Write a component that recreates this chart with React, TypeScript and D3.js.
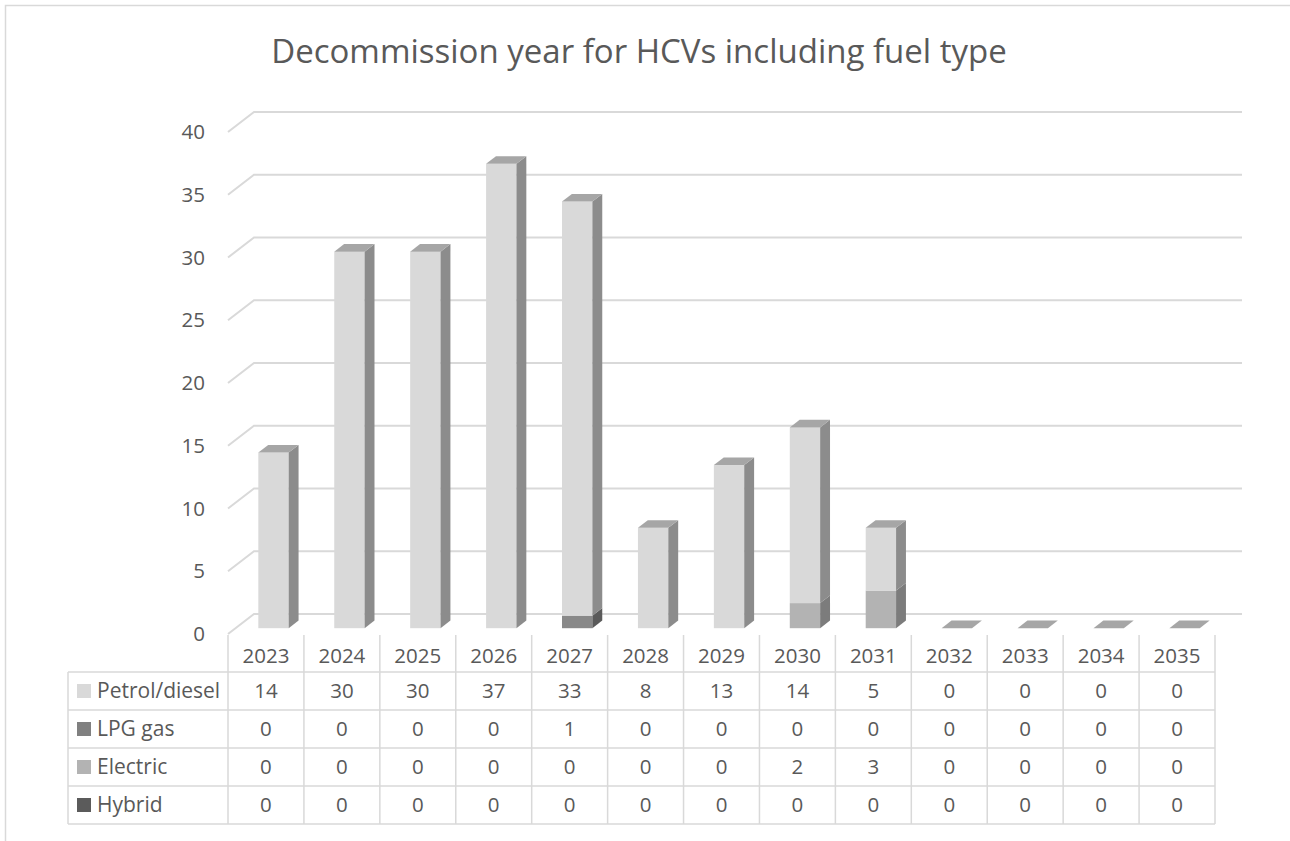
import * as d3 from 'd3';

const years = ['2023', '2024', '2025', '2026', '2027', '2028', '2029', '2030', '2031', '2032', '2033', '2034', '2035'];
const petrol = [14, 30, 30, 37, 33, 8, 13, 14, 5, 0, 0, 0, 0];
const lpg = [0, 0, 0, 0, 1, 0, 0, 0, 0, 0, 0, 0, 0];
const electric = [0, 0, 0, 0, 0, 0, 0, 2, 3, 0, 0, 0, 0];
const hybrid = [0, 0, 0, 0, 0, 0, 0, 0, 0, 0, 0, 0, 0];
const yTicks = [0, 5, 10, 15, 20, 25, 30, 35, 40];

// table order (top to bottom) and stacking order (bottom up)
const series = [
    { name: 'Petrol/diesel', values: petrol, front: '#d9d9d9', side: '#8c8c8c', top: '#a6a6a6', key: '#d9d9d9' },
    { name: 'LPG gas', values: lpg, front: '#898989', side: '#5a5a5a', top: '#707070', key: '#808080' },
    { name: 'Electric', values: electric, front: '#b3b3b3', side: '#7c7c7c', top: '#959595', key: '#b3b3b3' },
    { name: 'Hybrid', values: hybrid, front: '#636363', side: '#404040', top: '#505050', key: '#5b5b5b' }
];
const stackOrder = [3, 2, 1, 0];

const W = 1290;
const H = 841;
const font = '"Open Sans", Lato, sans-serif';
const textColor = '#595959';
const lineColor = '#d9d9d9';

export default function App() {
    const x = d3.scaleBand().domain(years).range([228, 1215]).padding(0);
    const y = d3.scaleLinear().domain([0, 40]).range([634, 132]);
    const depthX = 26;
    const depthY = -20;
    const f1 = 0.29;
    const f2 = 0.67;
    const barW = x.bandwidth() * 0.4;

    const rowTop = 672;
    const rowH = 38;
    const tableLeft = 68;

    const bars: JSX.Element[] = [];
    years.forEach((yr, i) => {
        const cx = (x(yr) || 0) + x.bandwidth() / 2 + depthX * f1;
        const x0 = cx - barW / 2;
        const x1 = cx + barW / 2;
        const ox = depthX * (f2 - f1);
        const oy = depthY * (f2 - f1);
        const base = depthY * f1;
        let acc = 0;
        const segs = stackOrder.map(si => {
            const v = series[si].values[i];
            const s = { si, from: acc, to: acc + v };
            acc += v;
            return s;
        }).filter(s => s.to > s.from);
        if (segs.length === 0) {
            const yb = y(0) + base;
            bars.push(
                <path key={yr + '-flat'}
                    d={`M${x0},${yb}L${x1},${yb}L${x1 + ox},${yb + oy}L${x0 + ox},${yb + oy}Z`}
                    fill={series[0].top} />
            );
            return;
        }
        segs.forEach((s, k) => {
            const sr = series[s.si];
            const yb = y(s.from) + base;
            const yt = y(s.to) + base;
            bars.push(
                <g key={yr + '-' + s.si}>
                    <rect x={x0} y={yt} width={x1 - x0} height={yb - yt} fill={sr.front} />
                    <path d={`M${x1},${yb}L${x1 + ox},${yb + oy}L${x1 + ox},${yt + oy}L${x1},${yt}Z`} fill={sr.side} />
                    {k === segs.length - 1 && (
                        <path d={`M${x0},${yt}L${x1},${yt}L${x1 + ox},${yt + oy}L${x0 + ox},${yt + oy}Z`} fill={sr.top} />
                    )}
                </g>
            );
        });
    });

    return (
        <div style={{ position: 'absolute', left: 0, top: 0 }}>
            <svg width={W} height={H} style={{ display: 'block', background: '#fff' }}>
                <path d={`M5.5,${H}L5.5,5.5L${W},5.5`} fill="none" stroke={lineColor} strokeWidth={1.5} />
                <text x={639} y={63} textAnchor="middle" fontFamily={font} fontSize={33} fill={textColor}>
                    Decommission year for HCVs including fuel type
                </text>

                {yTicks.map(t => (
                    <g key={'g' + t}>
                        <path d={`M228,${y(t)}L${228 + depthX},${y(t) + depthY}L1242,${y(t) + depthY}`}
                            fill="none" stroke={lineColor} strokeWidth={2} />
                        <text x={205} y={y(t)} dy="0.35em" textAnchor="end" fontFamily={font} fontSize={20.5} fill={textColor}>
                            {t}
                        </text>
                    </g>
                ))}

                {bars}

                {/* data table */}
                <g stroke={lineColor} strokeWidth={1.5} fill="none">
                    {series.map((_, r) => (
                        <line key={'h' + r} x1={tableLeft} x2={1215} y1={rowTop + r * rowH} y2={rowTop + r * rowH} />
                    ))}
                    <line x1={tableLeft} x2={1215} y1={rowTop + 4 * rowH} y2={rowTop + 4 * rowH} />
                    <line x1={tableLeft} x2={tableLeft} y1={rowTop} y2={rowTop + 4 * rowH} />
                    {years.map(yr => (
                        <line key={'v' + yr} x1={x(yr) || 0} x2={x(yr) || 0} y1={635} y2={rowTop + 4 * rowH} />
                    ))}
                    <line x1={1215} x2={1215} y1={635} y2={rowTop + 4 * rowH} />
                </g>
                {years.map(yr => (
                    <text key={'t' + yr} x={(x(yr) || 0) + x.bandwidth() / 2} y={656} dy="0.35em" textAnchor="middle"
                        fontFamily={font} fontSize={20.5} fill={textColor}>{yr}</text>
                ))}
                {series.map((s, r) => {
                    const cy = rowTop + r * rowH + rowH / 2;
                    return (
                        <g key={'row' + r}>
                            <rect x={77} y={cy - 7} width={14} height={14} fill={s.key} />
                            <text x={97} y={cy} dy="0.35em" fontFamily={font} fontSize={21} fill={textColor}>{s.name}</text>
                            {s.values.map((v, i) => (
                                <text key={i} x={(x(years[i]) || 0) + x.bandwidth() / 2} y={cy} dy="0.35em" textAnchor="middle"
                                    fontFamily={font} fontSize={20.5} fill={textColor}>{v}</text>
                            ))}
                        </g>
                    );
                })}
            </svg>
        </div>
    );
}
